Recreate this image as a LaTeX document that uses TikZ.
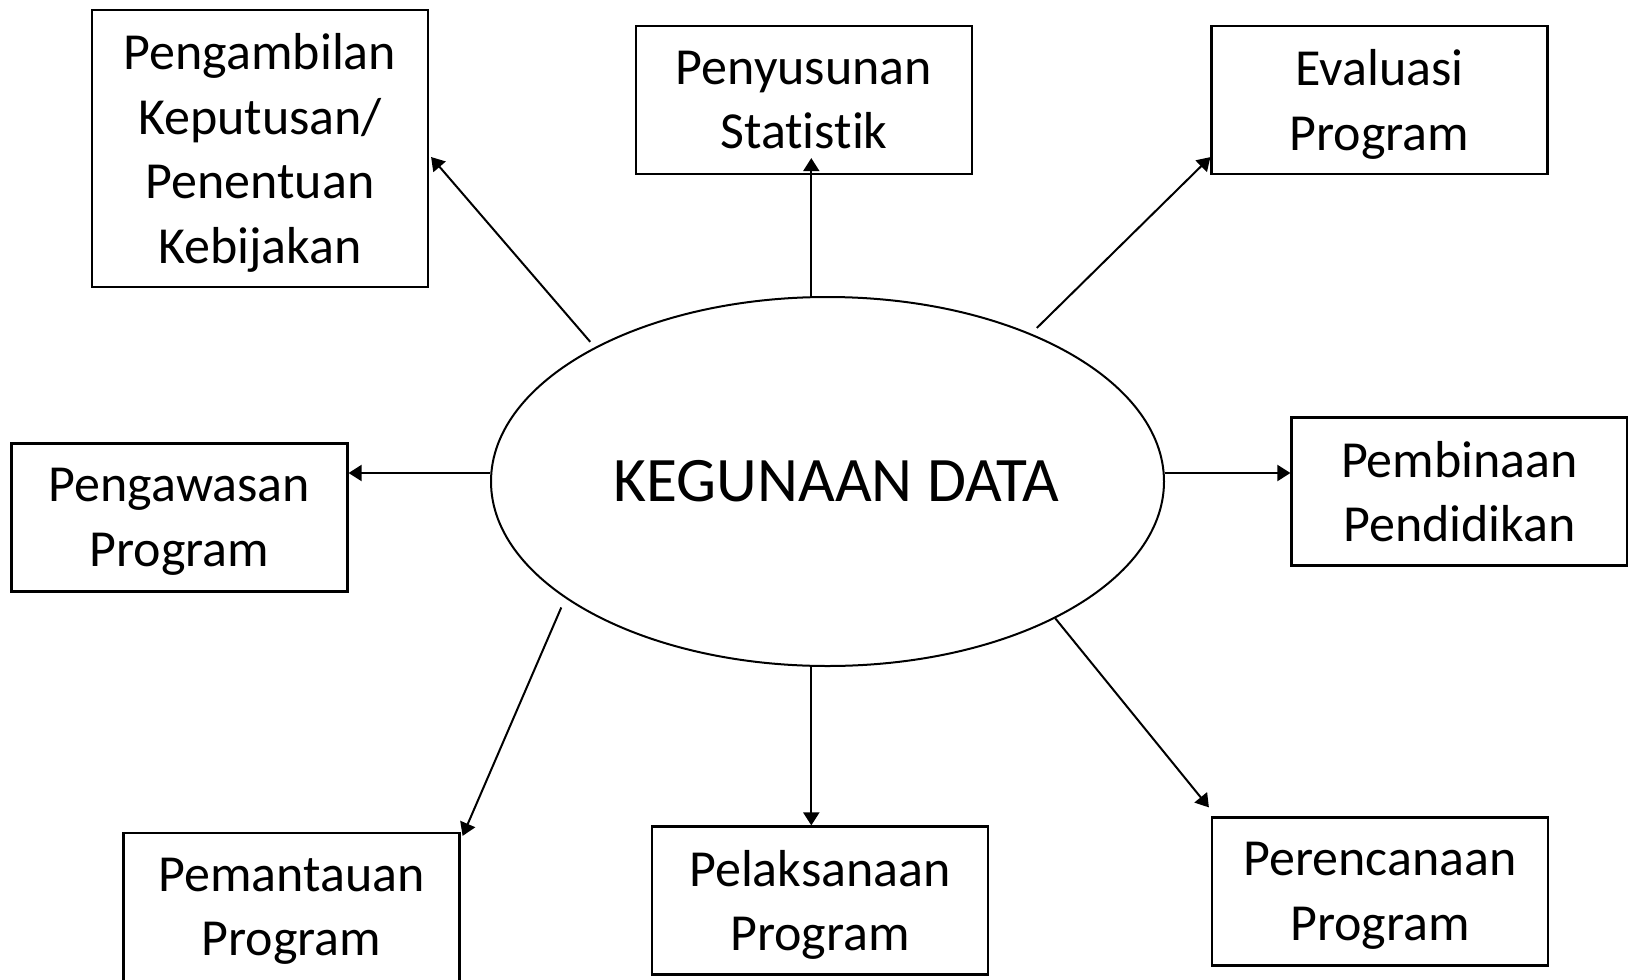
\documentclass[tikz,border=0pt]{standalone}
\usepackage{fontspec}
\setmainfont[Ligatures=NoCommon]{Carlito}
\usepackage{tikz}
\usetikzlibrary{shapes.geometric}
\usetikzlibrary{calc}
\usetikzlibrary{arrows.meta}
\tikzset{box/.style={draw, line width=1.1pt, minimum width=168pt, minimum height=74pt, inner sep=0pt, text depth=0pt, align=center, font=\fontsize{26pt}{32.2pt}\selectfont}}
\tikzset{usage/.style={draw, ellipse, line width=1pt, minimum width=336.5pt, minimum height=184.5pt, inner sep=0pt, font=\fontsize{31.7pt}{38pt}\selectfont}}
\tikzset{arr/.style={-{Triangle[length=6.5pt, width=8pt]}, line width=1pt}}

\begin{document}
\begin{tikzpicture}[x=0.5pt, y=-0.5pt]
	\useasboundingbox (0,0) rectangle (1628,980);

	% MIDDLE
	\node[usage] (data) at (827.5,481.5) {\hspace*{9pt}KEGUNAAN DATA};

	% TOP
	\node[box, minimum height=138.5pt] (pengambilan) at (260,148.5) {Pengambilan\\Keputusan/\\Penentuan\\Kebijakan};
	\node[box] (penyusunan) at (804,100) {Penyusunan\\Statistik};
	\node[box] (evaluasi) at (1379.5,100) {Evaluasi\\Program};

	% SIDES
	\node[box] (pengawasan) at (179.5,517.5) {Pengawasan\\Program};
	\node[box] (pembinaan) at (1459.5,491.5) {Pembinaan\\Pendidikan};

	% BOTTOM
	\node[box] (pemantauan) at (291.5,907) {Pemantauan\\Program};
	\node[box] (pelaksanaan) at (820,900.5) {Pelaksanaan\\Program};
	\node[box] (perencanaan) at (1380,891.5) {Perencanaan\\Program};

	% Arrows up
	\draw[arr, shorten <=3.5pt] (data.150) -- ($(pengambilan.east)+(2,8.5)$);
	\draw[arr, shorten >=-8.5pt] (data.95) -- (data.95 |- penyusunan.south);
	\draw[arr, shorten <=4pt] (data.36) -- ($(evaluasi.south west)+(0,-18)$);

	% Arrows sideways
	\draw[arr] ($(data.west)+(0,-8.5)$) -- ($(pengawasan.east)+(0,-44.5)$);
	\draw[arr] ($(data.east)+(0,-8.5)$) -- ($(pembinaan.west)+(0,-18.5)$);

	% Arrows down
	\draw[arr, shorten <=5pt] (data.204) -- ($(pemantauan.north east)+(2,4)$);
	\draw[arr] (data.265) -- (data.265 |- pelaksanaan.north);
	\draw[arr] (data.-31.4) -- ($(perencanaan.north west)+(-2,-9)$);
\end{tikzpicture}
\end{document}
